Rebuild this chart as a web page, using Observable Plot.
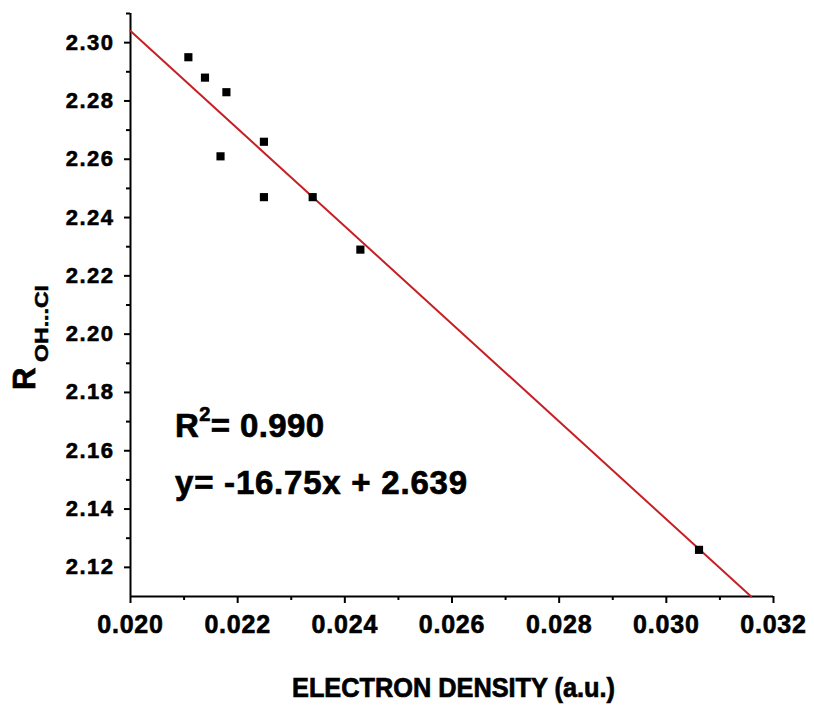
<!DOCTYPE html>
<html>
<head>
<meta charset="utf-8">
<script src="https://cdn.jsdelivr.net/npm/d3@7"></script>
<script src="https://cdn.jsdelivr.net/npm/@observablehq/plot@0.6"></script>
<style>
  html, body { margin: 0; padding: 0; background: #fff; }
  #chart { width: 814px; height: 705px; }
</style>
</head>
<body>
<div id="chart"></div>
<script>
// Data
const electronDensity = [0.02108, 0.02139, 0.02179, 0.02168, 0.02249, 0.02249, 0.02340, 0.02429, 0.03061];
const rOHCl = [2.295, 2.288, 2.283, 2.261, 2.266, 2.247, 2.247, 2.229, 2.126];

// Fit shown on the chart
const fitSlope = -16.75;
const fitIntercept = 2.639;
const fitR2 = "0.990";

// Axes
const xDomain = [0.020, 0.032];
const yDomain = [2.11, 2.31];
const xMajorTicks = [0.020, 0.022, 0.024, 0.026, 0.028, 0.030, 0.032];
const xMinorTicks = [0.021, 0.023, 0.025, 0.027, 0.029, 0.031];
const yMajorTicks = [2.12, 2.14, 2.16, 2.18, 2.20, 2.22, 2.24, 2.26, 2.28, 2.30];
const yMinorTicks = [2.13, 2.15, 2.17, 2.19, 2.21, 2.23, 2.25, 2.27, 2.29, 2.31];

const xTitle = "ELECTRON DENSITY (a.u.)";
const yTitleMain = "R";
const yTitleSub = "OH...Cl";

const points = electronDensity.map((x, i) => ({x, y: rOHCl[i]}));
const xEnd = (fitIntercept - yDomain[0]) / -fitSlope;
const fitLine = [xDomain[0], xEnd].map(x => ({x, y: fitSlope * x + fitIntercept}));

const font = "'Liberation Sans', Arial, Helvetica, sans-serif";

const plot = Plot.plot({
  width: 814,
  height: 705,
  marginLeft: 130,
  marginRight: 41,
  marginTop: 13,
  marginBottom: 109,
  x: {domain: xDomain},
  y: {domain: yDomain},
  style: {fontFamily: font, color: "#000", background: "#fff", overflow: "visible"},
  marks: [
    Plot.axisX({ticks: xMajorTicks, tickSize: 7, tickPadding: 12, tickFormat: d3.format(".3f"),
      fontSize: 25, fontWeight: "bold", strokeWidth: 2, label: null}),
    Plot.axisX({ticks: xMinorTicks, tickSize: 4, tickFormat: () => "", strokeWidth: 2, label: null}),
    Plot.axisY({ticks: yMajorTicks, tickSize: 6, tickPadding: 10, tickFormat: d3.format(".2f"),
      fontSize: 22, fontWeight: "bold", strokeWidth: 2, label: null}),
    Plot.axisY({ticks: yMinorTicks, tickSize: 4, tickFormat: () => "", strokeWidth: 2, label: null}),
    Plot.ruleY([yDomain[0]], {stroke: "#000", strokeWidth: 2}),
    Plot.ruleX([xDomain[0]], {stroke: "#000", strokeWidth: 2}),
    Plot.line(fitLine, {x: "x", y: "y", stroke: "#c62026", strokeWidth: 2}),
    Plot.dot(points, {x: "x", y: "y", symbol: "square", r: 4.6, fill: "#000", stroke: "none"})
  ]
});

const svg = d3.select(plot);
svg.selectAll("g[aria-label='y-axis tick label'] text")
  .attr("font-size", 22).attr("letter-spacing", "1.5")
  .attr("stroke", "#000").attr("stroke-width", 0.6);
svg.selectAll("g[aria-label='x-axis tick label'] text")
  .attr("font-size", 25).attr("letter-spacing", "0.8")
  .attr("stroke", "#000").attr("stroke-width", 0.6);
const sx = plot.scale("x"), sy = plot.scale("y");

// Annotation (positioned in data space)
const annX = sx.apply(0.02084);
const r2Y = sy.apply(2.1644);
const eqY = sy.apply(2.1449);

const r2 = svg.append("text")
  .attr("x", annX).attr("y", r2Y)
  .attr("text-anchor", "start")
  .attr("font-family", font).attr("font-weight", "bold").attr("font-size", 33)
  .attr("letter-spacing", "0.4")
  .attr("fill", "#000").attr("stroke", "#000").attr("stroke-width", 0.7);
r2.append("tspan").text("R");
r2.append("tspan").attr("font-size", 20).attr("dy", -16).text("2");
r2.append("tspan").attr("dy", 16).text("= " + fitR2);

svg.append("text")
  .attr("x", annX).attr("y", eqY)
  .attr("text-anchor", "start")
  .attr("font-family", font).attr("font-weight", "bold").attr("font-size", 33)
  .attr("textLength", 292).attr("lengthAdjust", "spacing")
  .attr("fill", "#000").attr("stroke", "#000").attr("stroke-width", 0.7)
  .text(`y= ${fitSlope}x + ${fitIntercept}`);

// X axis title
svg.append("text")
  .attr("x", (sx.apply(xDomain[0]) + sx.apply(xDomain[1])) / 2 + 2)
  .attr("y", 697)
  .attr("text-anchor", "middle")
  .attr("font-family", font).attr("font-weight", "bold").attr("font-size", 27)
  .attr("textLength", 323).attr("lengthAdjust", "spacingAndGlyphs")
  .attr("fill", "#000").attr("stroke", "#000").attr("stroke-width", 0.7)
  .text(xTitle);

// Y axis title (rotated)
const yt = svg.append("g").attr("transform", "translate(35,390) rotate(-90)");
yt.append("text")
  .attr("x", 0).attr("y", 0)
  .attr("text-anchor", "start")
  .attr("font-family", font).attr("font-weight", "bold").attr("font-size", 31)
  .attr("fill", "#000").attr("stroke", "#000").attr("stroke-width", 0.7)
  .text(yTitleMain);
yt.append("text")
  .attr("x", 28).attr("y", 13)
  .attr("text-anchor", "start")
  .attr("font-family", font).attr("font-weight", "bold").attr("font-size", 18)
  .attr("textLength", 77).attr("lengthAdjust", "spacingAndGlyphs")
  .attr("fill", "#000").attr("stroke", "#000").attr("stroke-width", 0.5)
  .text(yTitleSub);

document.getElementById("chart").appendChild(plot);
</script>
</body>
</html>
